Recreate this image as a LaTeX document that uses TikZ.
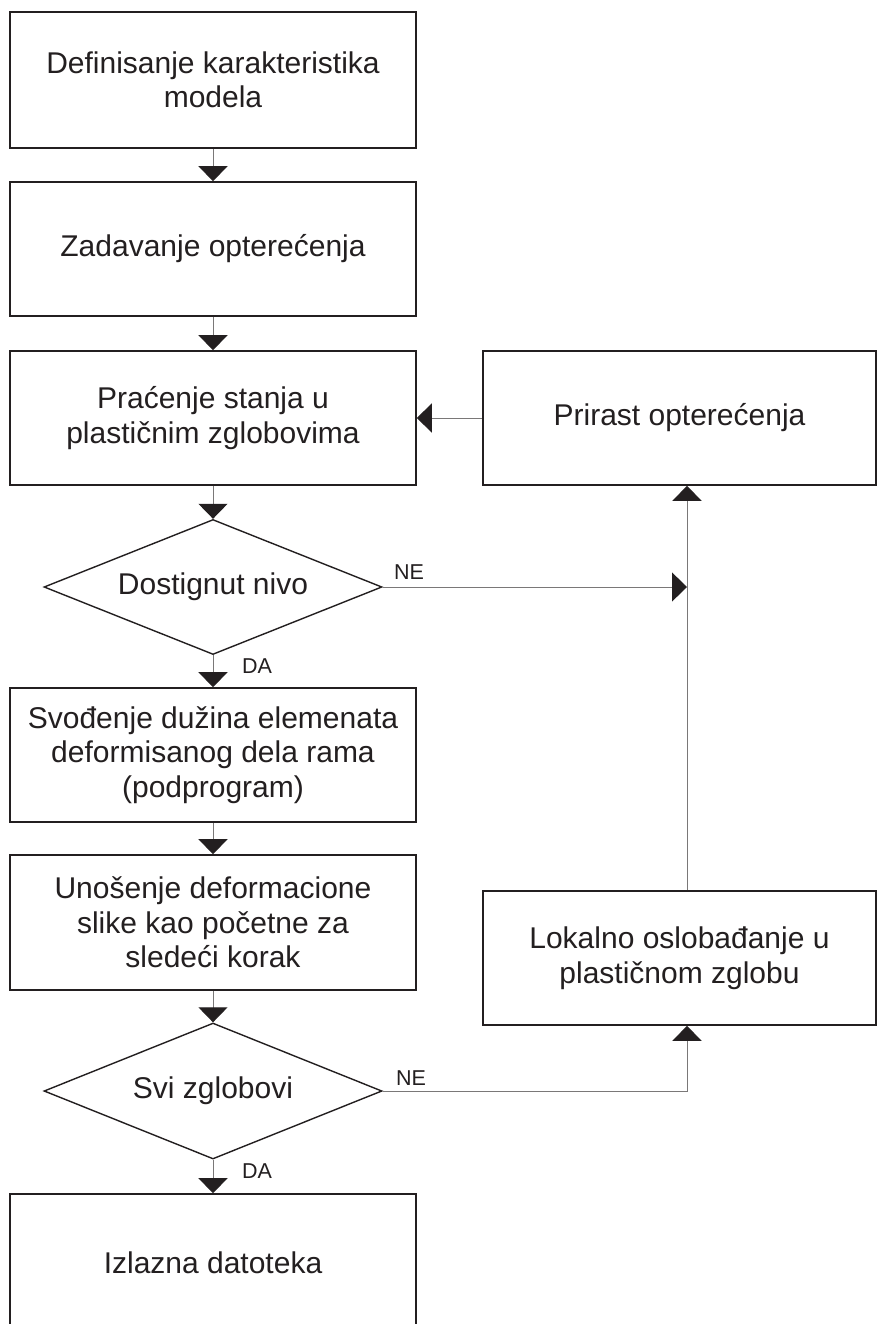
\documentclass[tikz,border=0pt]{standalone}
\usepackage{fontspec}
\setmainfont{Liberation Sans}
\usetikzlibrary{arrows.meta,shapes.geometric}
\definecolor{ink}{HTML}{231F20}
\definecolor{wire}{HTML}{7A7878}
\tikzset{
  box/.style={draw=ink,line width=1.6pt,minimum width=406pt,minimum height=134pt,
    inner sep=0pt,align=center,text=ink,font=\fontsize{30}{34.5}\selectfont},
  rbox/.style={box,minimum width=393pt},
  dec/.style={diamond,draw=ink,line width=1.4pt,aspect=2.5,minimum width=338pt,
    minimum height=135pt,inner sep=0pt,text=ink,font=\fontsize{30}{34}\selectfont},
  conn/.style={draw=wire,line width=1pt,
    -{Triangle[width=29pt,length=15pt,color=ink]}},
  lbl/.style={text=ink,inner sep=0pt,font=\fontsize{21.5}{24}\selectfont}
}
\begin{document}
\begin{tikzpicture}[x=1pt,y=-1pt]
\useasboundingbox (0,0) rectangle (878,1324);
\clip (0,0) rectangle (878,1324);
\fill[white] (0,0) rectangle (878,1324);

\node[box,minimum height=136pt] (b1) at (213,80) {Definisanje karakteristika\\modela};
\node[box] (b2) at (213,249) {Zadavanje opterećenja};
\node[box] (b3) at (213,418) {Praćenje stanja u\\plastičnim zglobovima};
\node[dec] (d1) at (213,587) {Dostignut nivo};
\node[box] (b4) at (213,755) {Svođenje dužina elemenata\\deformisanog dela rama\\(podprogram)};
\node[box,minimum height=135pt] (b5) at (213,922.5) {Unošenje deformacione\\slike kao početne za\\sledeći korak};
\node[dec,minimum height=136pt] (d2) at (213,1091) {Svi zglobovi};
\node[box,minimum height=138pt] (b6) at (213,1263) {Izlazna datoteka};

\node[rbox] (pri) at (679.5,418) {Prirast opterećenja};
\node[rbox] (lok) at (679.5,958) {Lokalno oslobađanje u\\plastičnom zglobu};

\coordinate (j1) at (687,587);

\draw[conn] (b1) -- (b2);
\draw[conn] (b2) -- (b3);
\draw[conn] (b3) -- (d1);
\draw[conn] (d1) -- (b4);
\draw[conn] (b4) -- (b5);
\draw[conn] (b5) -- (d2);
\draw[conn] (d2) -- (b6);
\draw[conn] (pri.west) -- (b3.east);
\draw[conn] (d1.east) -- (j1);
\draw[conn] (lok.north -| j1) -- (pri.south -| j1);
\draw[conn] (d2.east) -| (lok.south -| j1);

\node[lbl] (ne1) at (409,572) {NE};
\node[lbl] (ne2) at (411,1078) {NE};
\node[lbl] (da1) at (257,666) {DA};
\node[lbl] (da2) at (257,1171) {DA};
\end{tikzpicture}
\end{document}
